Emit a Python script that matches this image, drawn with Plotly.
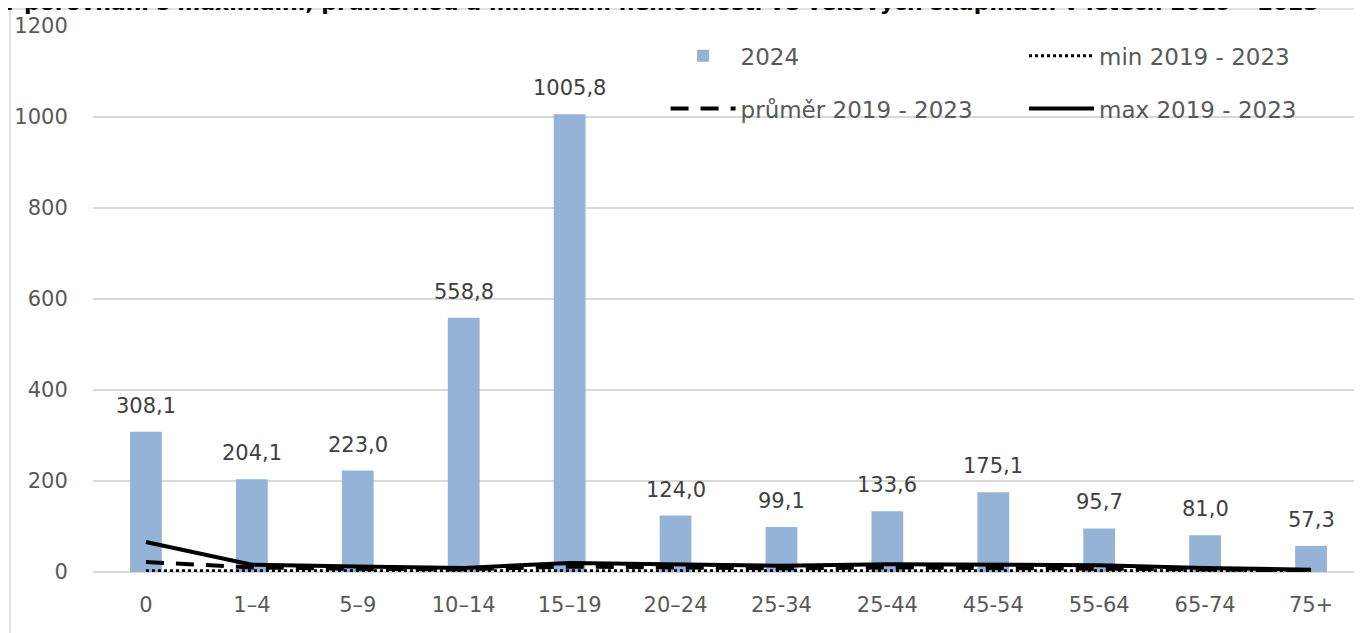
import plotly.graph_objects as go

categories = ["0", "1–4", "5–9", "10–14", "15–19", "20–24", "25-34", "25-44", "45-54", "55-64", "65-74", "75+"]
values_2024 = [308.1, 204.1, 223.0, 558.8, 1005.8, 124.0, 99.1, 133.6, 175.1, 95.7, 81.0, 57.3]
max_2019_2023 = [66, 16, 12, 9, 20, 18, 14, 17, 16, 15, 9, 5]
mean_2019_2023 = [22, 10, 7, 6, 12, 10, 8, 10, 9, 9, 6, 3]
min_2019_2023 = [3, 3, 3, 3, 4, 4, 3, 4, 4, 4, 3, 2]
y_ticks = [0, 200, 400, 600, 800, 1000, 1200]
title_text = "v porovnání s maximální, průměrnou a minimální nemocností ve věkových skupinách v letech 2019 – 2023"

FONT = "DejaVu Sans"
GRAY = "#595959"

fig = go.Figure()
fig.add_trace(go.Bar(
    x=categories, y=values_2024, name="2024",
    marker=dict(color="#95B3D7", line=dict(width=0)),
    legend="legend", legendgroup="a",
))
fig.add_trace(go.Scatter(
    x=categories, y=mean_2019_2023, name="průměr 2019 - 2023", mode="lines",
    line=dict(color="black", width=4, dash="18px,12px"),
    legend="legend", legendgroup="b",
))
fig.add_trace(go.Scatter(
    x=categories, y=min_2019_2023, name="min 2019 - 2023", mode="lines",
    line=dict(color="black", width=3, dash="dot"),
    legend="legend2", legendgroup="c",
))
fig.add_trace(go.Scatter(
    x=categories, y=max_2019_2023, name="max 2019 - 2023", mode="lines",
    line=dict(color="black", width=4),
    legend="legend2", legendgroup="d",
))

annotations = []
for c, v in zip(categories, values_2024):
    annotations.append(dict(
        x=c, y=v, xref="x", yref="y", text=f"{v:.1f}".replace(".", ","),
        showarrow=False, yanchor="bottom", yshift=12,
        font=dict(family=FONT, size=21, color="#404040"),
    ))
annotations.append(dict(
    x=-0.073, y=1.043, xref="paper", yref="paper", xanchor="left", yanchor="middle",
    text="<b>" + title_text + "</b>", showarrow=False,
    font=dict(family=FONT, size=22, color="black"),
))

legend_common = dict(
    orientation="v", bgcolor="rgba(0,0,0,0)", borderwidth=0,
    font=dict(family=FONT, size=23, color=GRAY),
    itemwidth=65, tracegroupgap=20, xanchor="left", yanchor="top",
    itemclick=False, itemdoubleclick=False,
)

fig.update_layout(
    width=1362, height=633,
    margin=dict(l=85, r=6, t=18, b=69),
    paper_bgcolor="white", plot_bgcolor="white",
    bargap=0.7,
    showlegend=True,
    legend=dict(x=0.4505, y=0.985, **legend_common),
    legend2=dict(x=0.7325, y=0.985, **legend_common),
    xaxis=dict(
        type="category", categoryorder="array", categoryarray=categories,
        showgrid=False, showline=False, zeroline=False,
        ticks="outside", ticklen=14, tickcolor="rgba(0,0,0,0)",
        tickfont=dict(family=FONT, size=21, color=GRAY),
    ),
    yaxis=dict(
        range=[0, 1200], tickvals=y_ticks,
        showgrid=True, gridcolor="#D9D9D9", gridwidth=1.5,
        zeroline=True, zerolinecolor="#D9D9D9", zerolinewidth=1.5,
        showline=False,
        ticks="outside", ticklen=20, tickcolor="rgba(0,0,0,0)",
        tickfont=dict(family=FONT, size=21, color=GRAY),
    ),
    annotations=annotations,
    shapes=[dict(
        type="rect", xref="paper", yref="paper",
        x0=-0.0653, y0=-1.0, x1=2.0, y1=1.031,
        line=dict(color="#D9D9D9", width=1.5), fillcolor="rgba(0,0,0,0)", layer="below",
    )],
)

fig.write_html("out.html")
